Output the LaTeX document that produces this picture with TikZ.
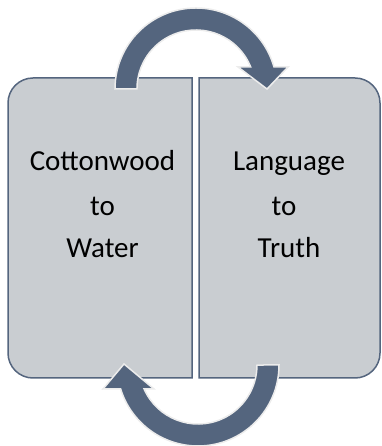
\documentclass[tikz,border=0pt]{standalone}
\usepackage{fontspec}
\setmainfont{Carlito}
\definecolor{slate}{RGB}{84,101,126}
\definecolor{panelgray}{RGB}{201,205,209}
\definecolor{rim}{RGB}{236,236,236}

\begin{document}
\begin{tikzpicture}[x=1pt,y=1pt,
    panel/.style={fill=panelgray,draw=slate,line width=1.5pt},
    bentarrow/.style={fill=slate,draw=rim,line width=1.5pt,line join=miter},
    word/.style={anchor=base,inner sep=0pt,font=\fontsize{29}{35}\selectfont}]
      \useasboundingbox (0,0) rectangle (381,446);
      \draw[panel] (192,68) -- (33,68) arc[start angle=270,end angle=180,radius=25] -- (8,343) arc[start angle=180,end angle=90,radius=25] -- (192,368) -- cycle;
      \draw[panel] (199,68) -- (355,68) arc[start angle=-90,end angle=0,radius=25] -- (380,343) arc[start angle=0,end angle=90,radius=25] -- (199,368) -- cycle;
      \draw[bentarrow] (115,357) arc[start angle=180,end angle=15.8,radius=81] -- (288,379) -- (267,357) -- (238,379) -- (250.7,379) arc[start angle=21.9,end angle=180,radius=59] -- cycle;
      \draw[bentarrow] (279,81) arc[start angle=0,end angle=-162.8,radius=81] -- (103,57) -- (124,82) -- (154,57) -- (144.1,57) arc[start angle=-156,end angle=0,radius=59] -- cycle;
      \node[word] (cotton) at (102.5,275) {Cottonwood};
      \node[word] (lto) at (102.5,230) {to};
      \node[word] (water) at (102.5,188) {Water};
      \node[word] (language) at (289,275) {Language};
      \node[word] (rto) at (284,230) {to};
      \node[word] (truth) at (289,188) {Truth};
    \end{tikzpicture}
\end{document}
